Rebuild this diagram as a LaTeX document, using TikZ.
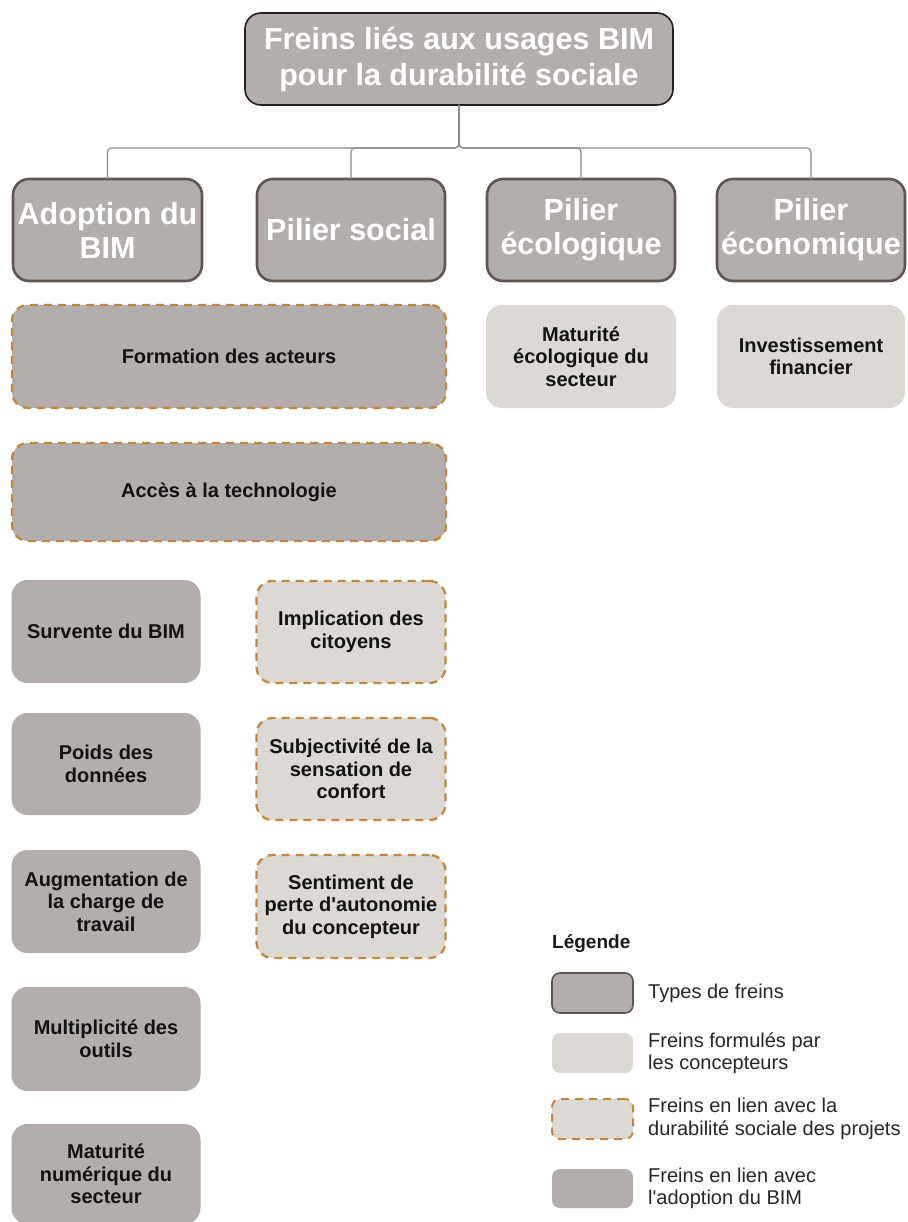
\documentclass[tikz,border=0pt]{standalone}
\usepackage{fontspec}
\setmainfont{Liberation Sans}[Ligatures=TeXOff]
\definecolor{darkfill}{HTML}{B3AEAB}
\definecolor{lightfill}{HTML}{DCD9D5}
\definecolor{rootborder}{HTML}{231F1E}
\definecolor{typeborder}{HTML}{5F5652}
\definecolor{orangec}{HTML}{C98537}
\definecolor{connc}{HTML}{8C8785}
\newcommand\bodyfont{\fontsize{20}{22.5}\selectfont\bfseries}
\newcommand\headfont{\fontsize{30.5}{34}\selectfont\bfseries}
\newcommand\rootfont{\fontsize{30.5}{36}\selectfont\bfseries}
\newcommand\legfont{\fontsize{20}{22.5}\selectfont}
\tikzset{
  box/.style={rounded corners=16pt, align=center, inner sep=1pt, outer sep=0pt, font=\bodyfont, text=black!93},
  darkbox/.style={box, fill=darkfill},
  lightbox/.style={box, fill=lightfill},
  dashedge/.style={draw=orangec, line width=2.3pt, dash pattern=on 8pt off 6pt},
  typebox/.style={box, fill=darkfill, draw=typeborder, line width=2.6pt, text=white, font=\headfont},
  rootbox/.style={box, fill=darkfill, draw=rootborder, line width=1.6pt, text=white, font=\rootfont},
  conn/.style={draw=connc, line width=1.1pt, rounded corners=4pt},
  legbox/.style={rounded corners=8pt, minimum width=81pt, outer sep=0pt, inner sep=0pt},
  legtext/.style={anchor=west, align=left, font=\legfont, text=black!85, inner sep=0pt},
}
\begin{document}
\begin{tikzpicture}[x=1pt, y=-1pt]
\useasboundingbox (0,0) rectangle (907,1222);
% root and types
\node[rootbox, minimum width=428pt, minimum height=92pt] (root) at (459,59) {Freins liés aux usages BIM\\pour la durabilité sociale};
\node[typebox, minimum width=189pt, minimum height=102pt] (adop) at (107.5,230) {Adoption du\\BIM};
\node[typebox, minimum width=188pt, minimum height=102pt] (soc) at (351,230) {Pilier social};
\node[typebox, minimum width=188pt, minimum height=102pt] (eco) at (581,230) {Pilier\\écologique};
\node[typebox, minimum width=188pt, minimum height=102pt] (econ) at (811,230) {Pilier\\économique};
% connectors
\coordinate (bus) at (0,148);
\draw[conn] (root.south) |- (adop.north |- bus) -- (adop.north);
\draw[conn] (root.south) |- (soc.north |- bus) -- (soc.north);
\draw[conn] (root.south) |- (eco.north |- bus) -- (eco.north);
\draw[conn] (root.south) |- (econ.north |- bus) -- (econ.north);
% wide boxes
\node[darkbox, dashedge, minimum width=434pt, minimum height=103pt] (form) at (229,356.5) {Formation des acteurs};
\node[darkbox, dashedge, minimum width=434pt, minimum height=98pt] (acces) at (229,492) {Accès à la technologie};
% adoption column
\node[darkbox, minimum width=189pt, minimum height=103pt] (surv) at (106,631.5) {Survente du BIM};
\node[darkbox, minimum width=189pt, minimum height=102pt] (poids) at (106,764) {Poids des\\données};
\node[darkbox, minimum width=189pt, minimum height=103pt] (augm) at (106,901.5) {Augmentation de\\la charge de\\travail};
\node[darkbox, minimum width=189pt, minimum height=104pt] (multi) at (106,1039) {Multiplicité des\\outils};
\node[darkbox, minimum width=189pt, minimum height=100pt] (matnum) at (106,1174) {Maturité\\numérique du\\secteur};
% social column
\node[lightbox, dashedge, minimum width=189pt, minimum height=102pt] (impl) at (351,632) {Implication des\\citoyens};
\node[lightbox, dashedge, minimum width=189pt, minimum height=102pt] (subj) at (351,769) {Subjectivité de la\\sensation de\\confort};
\node[lightbox, dashedge, minimum width=189pt, minimum height=103pt] (sent) at (351,906.5) {Sentiment de\\perte d'autonomie\\du concepteur};
% eco / econ
\node[lightbox, minimum width=190pt, minimum height=103pt] (mateco) at (581,356.5) {Maturité\\écologique du\\secteur};
\node[lightbox, minimum width=188pt, minimum height=103pt] (invest) at (811,356.5) {Investissement\\financier};
% legend
\node[anchor=west, inner sep=0pt, font=\fontsize{19}{22}\selectfont\bfseries, text=black!90] (legtitle) at (552,944) {Légende};
\node[legbox, fill=darkfill, draw=typeborder, line width=1.6pt, minimum height=40pt] (lb1) at (592.5,993) {};
\node[legtext] (lt1) at (648,993) {Types de freins};
\node[legbox, fill=lightfill, minimum height=40pt] (lb2) at (592.5,1053) {};
\node[legtext] (lt2) at (648,1053) {Freins formulés par\\les concepteurs};
\node[legbox, fill=lightfill, draw=orangec, line width=2pt, dash pattern=on 8pt off 6pt, minimum height=40pt] (lb3) at (592.5,1119) {};
\node[legtext] (lt3) at (648,1119) {Freins en lien avec la\\durabilité sociale des projets};
\node[legbox, fill=darkfill, minimum height=39pt] (lb4) at (592.5,1188.5) {};
\node[legtext] (lt4) at (648,1188.5) {Freins en lien avec\\l'adoption du BIM};
\end{tikzpicture}
\end{document}
